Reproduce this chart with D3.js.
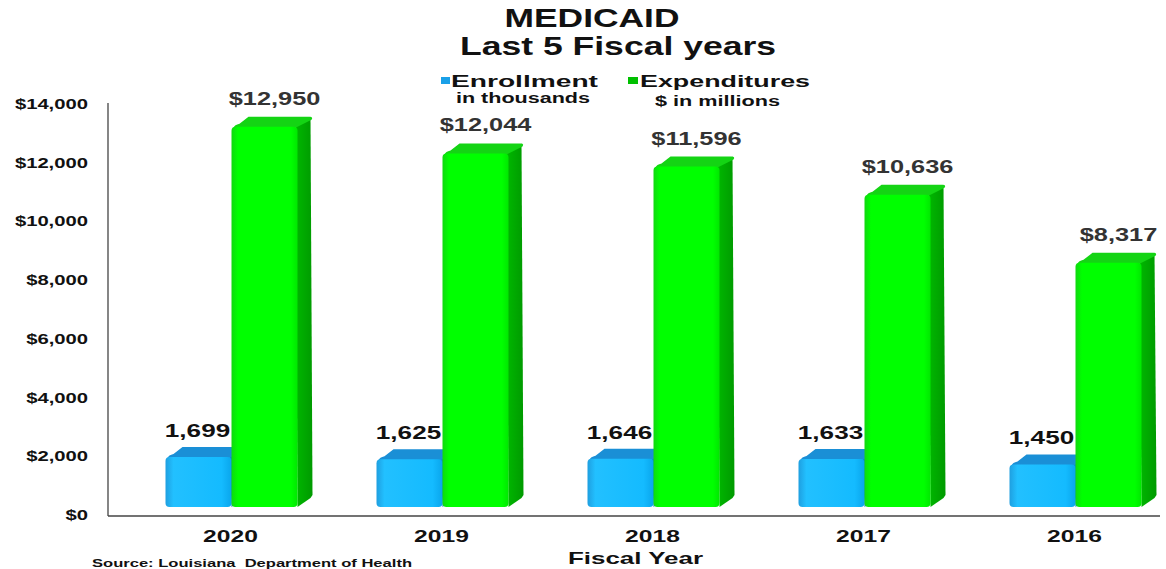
<!DOCTYPE html>
<html><head><meta charset="utf-8">
<script src="https://cdn.jsdelivr.net/npm/d3@7"></script>
<style>body{margin:0;background:#fff}svg{display:block;font-family:"Liberation Sans",Arial,sans-serif}</style>
</head><body><svg id="c" width="1166" height="569"></svg>
<script>
const years = ["2020","2019","2018","2017","2016"];
const enrollment = [1699,1625,1646,1633,1450];
const expenditures = [12950,12044,11596,10636,8317];
const enrollmentLabels = ["1,699","1,625","1,646","1,633","1,450"];
const expenditureLabels = ["$12,950","$12,044","$11,596","$10,636","$8,317"];
const yTicks = [0,2000,4000,6000,8000,10000,12000,14000];

const svg = d3.select("#c");
const defs = svg.append("defs");
function grad(id, stops){
  const g = defs.append("linearGradient").attr("id",id).attr("x1","0").attr("x2","1").attr("y1","0").attr("y2","0");
  stops.forEach(s=>g.append("stop").attr("offset",s[0]).attr("stop-color",s[1]));
}
grad("gBlue",[[0,"#1f9fe0"],[0.12,"#22c0ff"],[0.85,"#14bbff"],[1,"#0aa6ec"]]);
grad("gGreen",[[0,"#10d810"],[0.1,"#00ff00"],[0.9,"#00ff00"],[1,"#00e800"]]);
grad("gGreenSide",[[0,"#00b800"],[1,"#009a00"]]);

function stext(parent, x, y, str, size, sx, anchor, fill){
  return parent.append("text")
    .attr("transform",`translate(${x},${y}) scale(${sx},1)`)
    .attr("text-anchor",anchor||"start").attr("font-size",size)
    .attr("font-weight","bold").attr("fill",fill||"#111").text(str);
}
function ltext(parent, x, y, str, size, len, anchor, fill){
  return parent.append("text").attr("x",x).attr("y",y)
    .attr("text-anchor",anchor||"start").attr("font-size",size)
    .attr("font-weight","bold").attr("fill",fill||"#111")
    .attr("textLength",len).attr("lengthAdjust","spacingAndGlyphs").text(str);
}

const yAxisScale = d3.scaleLinear().domain([0,14000]).range([515,104]);
const barScale = d3.scaleLinear().domain([0,14000]).range([507,96]);
const x = d3.scaleBand().domain(years).range([126,1181]).padding(0);
const barW = 66, dx = 15, dy = 10;

svg.append("line").attr("x1",108).attr("x2",108).attr("y1",103).attr("y2",516).attr("stroke","#444").attr("stroke-width",1.3);
svg.append("line").attr("x1",108).attr("x2",1160).attr("y1",516).attr("y2",516).attr("stroke","#444").attr("stroke-width",1.3);

const gy = svg.append("g");
yTicks.forEach(d=>stext(gy, 88, yAxisScale(d)+5, "$"+d3.format(",")(d), 15, 1.35, "end"));

const gx = svg.append("g");
years.forEach(d=>stext(gx, x(d)+x.bandwidth()/2-1, 542, d, 17, 1.45, "middle"));

function bar3d(g, x0, v, front, side, top){
  const yt = barScale(v), yb = 507;
  g.append("path").attr("d",`M${x0+barW-2},${yt} L${x0+barW-2+dx},${yt-dy} L${x0+barW+dx},${yb-dy-2} L${x0+barW+dx-2},${yb-dy+1} L${x0+barW},${yb} Z`).attr("fill",side);
  g.append("path").attr("d",`M${x0+2},${yt+1} Q${x0+3},${yt-2} ${x0+8},${yt-3} L${x0+dx+2},${yt-dy} L${x0+barW+dx-3},${yt-dy} Q${x0+barW+dx+1},${yt-dy} ${x0+barW+dx-1},${yt-dy+3} L${x0+barW-2},${yt+1} Z`).attr("fill",top);
  g.append("rect").attr("x",x0).attr("y",yt).attr("width",barW).attr("height",yb-yt).attr("rx",4).attr("fill",front);
}

const gb = svg.append("g");
years.forEach((yr,i)=>{
  const c = x(yr)+x.bandwidth()/2;
  bar3d(gb, c-barW, enrollment[i], "url(#gBlue)", "#0b86c8", "#1a8fd6");
  bar3d(gb, c, expenditures[i], "url(#gGreen)", "url(#gGreenSide)", "#14d414");
});

const gl = svg.append("g");
years.forEach((yr,i)=>{
  const c = x(yr)+x.bandwidth()/2;
  stext(gl, c-barW/2-1, barScale(enrollment[i])-20, enrollmentLabels[i], 18, 1.45, "middle", "#111");
  stext(gl, c+barW/2+10, barScale(expenditures[i])-22, expenditureLabels[i], 17.5, 1.45, "middle", "#333");
});

ltext(svg, 592, 27, "MEDICAID", 26, 175, "middle");
ltext(svg, 618, 55, "Last 5 Fiscal years", 26, 316, "middle");

const lg = svg.append("g");
lg.append("rect").attr("x",441).attr("y",77).attr("width",9).attr("height",7).attr("fill","#1aa0e8");
ltext(lg, 451, 87, "Enrollment", 17, 147);
ltext(lg, 456, 103, "in thousands", 14, 134);
lg.append("rect").attr("x",628).attr("y",77).attr("width",10).attr("height",7).attr("fill","#00c000");
ltext(lg, 640, 87, "Expenditures", 17, 170);
ltext(lg, 655, 106, "$ in millions", 14, 125);

ltext(svg, 568, 564, "Fiscal Year", 17, 135);
ltext(svg, 92, 567, "Source: Louisiana  Department of Health", 11, 320).attr("xml:space","preserve");
</script></body></html>
